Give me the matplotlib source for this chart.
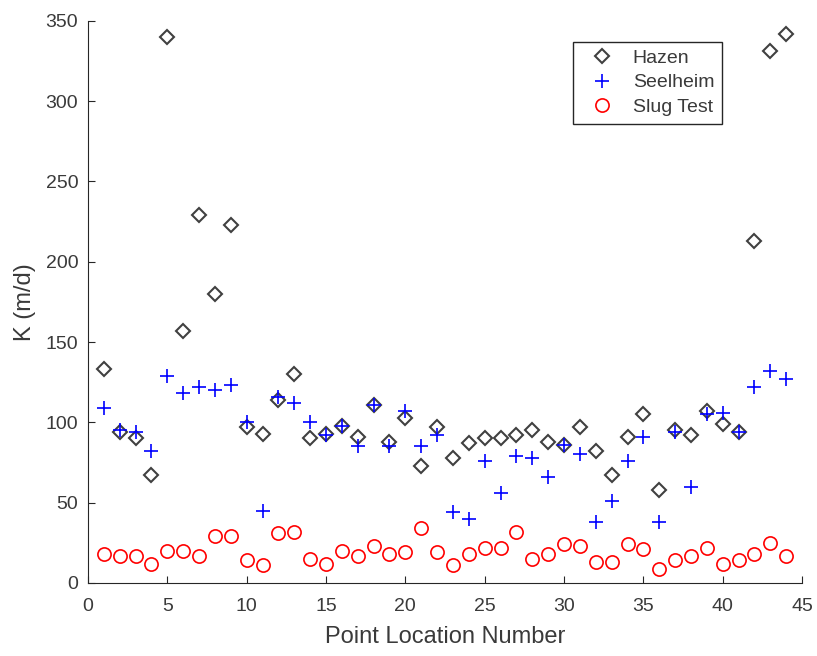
import matplotlib.pyplot as plt
import numpy as np

plt.rcParams['font.family'] = ['Liberation Sans', 'DejaVu Sans']

points = np.arange(1, 45)
hazen = [133, 94, 90, 67, 340, 157, 229, 180, 223, 97, 93, 114, 130, 90, 93,
         98, 91, 111, 88, 103, 73, 97, 78, 87, 90, 90, 92, 95, 88, 86, 97, 82,
         67, 91, 105, 58, 95, 92, 107, 99, 94, 213, 331, 342]
seelheim = [109, 95, 94, 82, 129, 118, 122, 120, 123, 100, 45, 116, 112, 100,
            92, 98, 85, 111, 85, 107, 85, 92, 44, 40, 76, 56, 79, 78, 66, 86,
            80, 38, 51, 76, 91, 38, 94, 60, 105, 106, 94, 122, 132, 127]
slug = [18, 17, 17, 12, 20, 20, 17, 29, 29, 14, 11, 31, 32, 15, 12, 20, 17, 23,
        18, 19, 34, 19, 11, 18, 22, 22, 32, 15, 18, 24, 23, 13, 13, 24, 21, 9,
        14, 17, 22, 12, 14, 18, 25, 17]

txt = '#3a3a3a'

fig = plt.figure(figsize=(8.17, 6.56), dpi=100)
ax = fig.add_axes([0.1077, 0.1113, 0.874, 0.857])

ax.plot(points, hazen, 'D', mfc='none', mec='#404040', ms=7.5, mew=1.5, label='Hazen')
ax.plot(points, seelheim, '+', color='blue', ms=10.5, mew=1.2, label='Seelheim')
ax.plot(points, slug, 'o', mfc='none', mec='red', ms=9.5, mew=1.2, label='Slug Test')

ax.set_xlim(0, 45)
ax.set_ylim(0, 350)
ax.set_xticks(range(0, 46, 5))
ax.set_yticks(range(0, 351, 50))
ax.spines['top'].set_visible(False)
ax.spines['right'].set_visible(False)
for s in ['left', 'bottom']:
    ax.spines[s].set_color('#262626')
ax.tick_params(direction='in', labelsize=14, colors='#262626',
               labelcolor=txt, length=5)
ax.tick_params(axis='x', pad=11)
ax.tick_params(axis='y', pad=7)
ax.set_xlabel('Point Location Number', fontsize=17, color=txt, labelpad=8)
ax.set_ylabel('K (m/d)', fontsize=17, color=txt, labelpad=7)

leg = ax.legend(loc='upper right', bbox_to_anchor=(0.888, 0.963),
                borderaxespad=0, fontsize=14, fancybox=False,
                edgecolor='#262626', framealpha=1, borderpad=0.4,
                labelspacing=0.35, handlelength=2.2, handletextpad=0.5)
leg.get_frame().set_linewidth(1.0)
for t in leg.get_texts():
    t.set_color(txt)

plt.savefig('out.png', dpi=100)
